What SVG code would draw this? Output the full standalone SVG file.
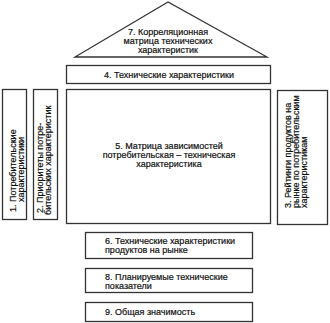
<svg xmlns="http://www.w3.org/2000/svg" width="330" height="323" viewBox="0 0 330 323">
<style>
.b{fill:#fff;stroke:#333;stroke-width:1.3}
.t{font-family:"Liberation Sans",Arial,sans-serif;font-size:9px;fill:#111;stroke:#111;stroke-width:0.2}
.v{font-family:"Liberation Sans",Arial,sans-serif;font-size:9px;fill:#111;stroke:#111;stroke-width:0.2}
.c{text-anchor:middle}
</style>
<rect width="330" height="323" fill="#fff"/>
<g id="n7">
<polygon class="b" points="168,2 75,57 267,57"/>
<text class="t c" x="168" y="35">7. Корреляционная</text>
<text class="t c" x="168" y="44">матрица технических</text>
<text class="t c" x="168" y="53">характеристик</text>
</g>
<g id="n4">
<rect class="b" x="66.5" y="65.5" width="204" height="18"/>
<text class="t c" x="169" y="78">4. Технические характеристики</text>
</g>
<g id="n1">
<rect class="b" x="2.5" y="89.5" width="24" height="130"/>
<text class="v" transform="translate(16,212) rotate(-90)">1. Потребительские</text>
<text class="v" transform="translate(23.5,202) rotate(-90)">характеристики</text>
</g>
<g id="n2">
<rect class="b" x="33.5" y="89.5" width="24" height="130"/>
<text class="v" transform="translate(43,213) rotate(-90)">2. Приоритеты потре-</text>
<text class="v" transform="translate(51,215) rotate(-90)">бительских характеристик</text>
</g>
<g id="n5">
<rect class="b" x="66.5" y="89.5" width="204" height="134"/>
<text class="t c" x="169" y="149">5. Матрица зависимостей</text>
<text class="t c" x="169" y="158">потребительская – техническая</text>
<text class="t c" x="169" y="167">характеристика</text>
</g>
<g id="n3">
<rect class="b" x="277.5" y="90.5" width="50" height="134"/>
<text class="v" transform="translate(291,208) rotate(-90)">3. Рейтинги продуктов на</text>
<text class="v" transform="translate(299,208) rotate(-90)">рынке по потребительским</text>
<text class="v" transform="translate(307,208) rotate(-90)">характеристикам</text>
</g>
<g id="n6">
<rect class="b" x="85.5" y="232.5" width="167" height="26"/>
<text class="t" x="105" y="244">6. Технические характеристики</text>
<text class="t" x="105" y="253">продуктов на рынке</text>
</g>
<g id="n8">
<rect class="b" x="85.5" y="268.5" width="167" height="24"/>
<text class="t" x="105" y="280">8. Планируемые технические</text>
<text class="t" x="105" y="289">показатели</text>
</g>
<g id="n9">
<rect class="b" x="85.5" y="302.5" width="167" height="19"/>
<text class="t" x="105" y="315">9. Общая значимость</text>
</g>
</svg>
